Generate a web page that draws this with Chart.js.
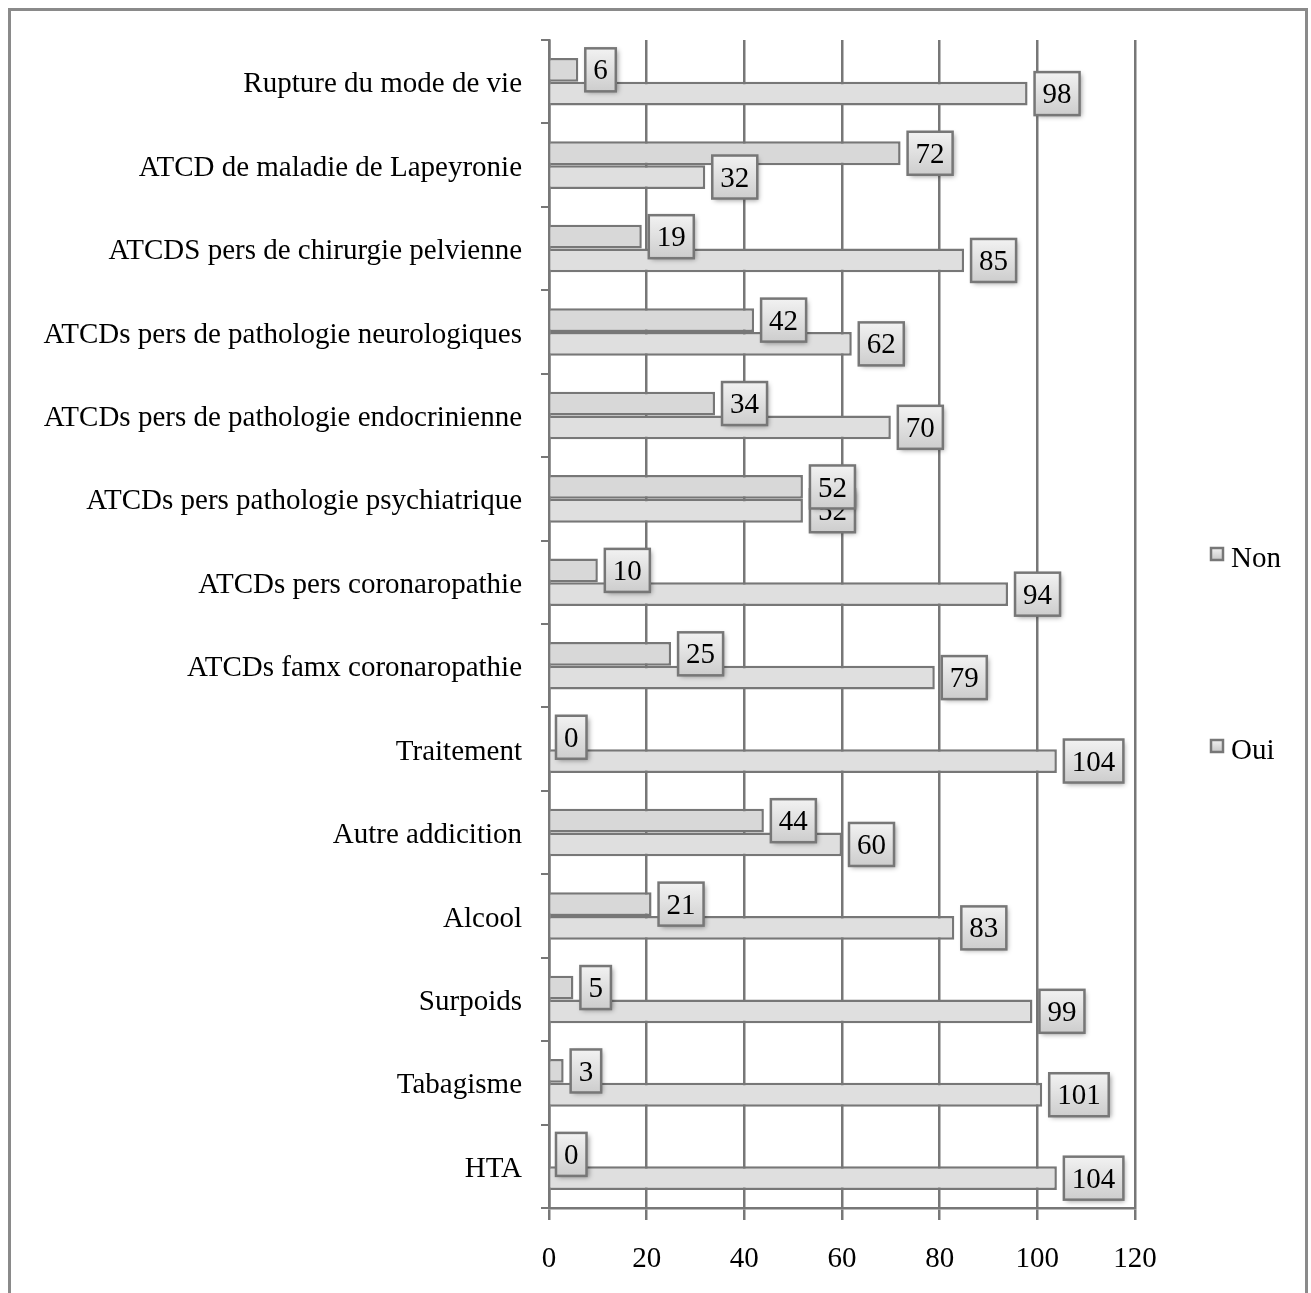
<!DOCTYPE html>
<html>
<head>
<meta charset="utf-8">
<script src="https://cdn.jsdelivr.net/npm/chart.js@4"></script>
<style>
  html, body { margin: 0; padding: 0; background: #fff; overflow: hidden; }
  #frame {
    position: absolute; left: 8px; top: 8px; width: 1294px; height: 1300px;
    border: 3px solid #8a8a8a; border-bottom: none;
  }
  #wrap { position: absolute; left: 0; top: 0; width: 1311px; height: 1293px; }
</style>
</head>
<body>
<div id="frame"></div>
<div id="wrap"><canvas id="chart"></canvas></div>
<script>
const categories = [
  'Rupture du mode de vie',
  'ATCD de maladie de Lapeyronie',
  'ATCDS pers de chirurgie pelvienne',
  'ATCDs pers de pathologie neurologiques',
  'ATCDs pers de pathologie endocrinienne',
  'ATCDs pers pathologie psychiatrique',
  'ATCDs pers coronaropathie',
  'ATCDs famx coronaropathie',
  'Traitement',
  'Autre addicition',
  'Alcool',
  'Surpoids',
  'Tabagisme',
  'HTA'
];
const nonValues = [6, 72, 19, 42, 34, 52, 10, 25, 0, 44, 21, 5, 3, 0];
const ouiValues = [98, 32, 85, 62, 70, 52, 94, 79, 104, 60, 83, 99, 101, 104];
const xTicks = [0, 20, 40, 60, 80, 100, 120];

const gray = '#777777';
const font = 'Liberation Serif, Times New Roman, serif';
const fontSize = 29;

// boxed value labels at the end of each bar (Oui first so Non sits on top)
const boxLabels = {
  id: 'boxLabels',
  afterDatasetsDraw(chart) {
    const ctx = chart.ctx;
    ctx.save();
    ctx.font = fontSize + 'px ' + font;
    [1, 0].forEach(function (di) {
      const ds = chart.data.datasets[di];
      const meta = chart.getDatasetMeta(di);
      meta.data.forEach(function (bar, i) {
        const txt = String(ds.data[i]);
        const w = ctx.measureText(txt).width + 16;
        const h = 43;
        const x = bar.x + 7;
        const y = bar.y - h / 2;
        const g = ctx.createLinearGradient(0, y, 0, y + h);
        g.addColorStop(0, '#f2f2f2');
        g.addColorStop(1, '#cdcdcd');
        ctx.shadowColor = 'rgba(0,0,0,0.4)';
        ctx.shadowBlur = 5;
        ctx.shadowOffsetX = 2;
        ctx.shadowOffsetY = 2;
        ctx.fillStyle = g;
        ctx.fillRect(x, y, w, h);
        ctx.shadowColor = 'transparent';
        ctx.lineWidth = 2.5;
        ctx.strokeStyle = gray;
        ctx.strokeRect(x, y, w, h);
        ctx.fillStyle = '#000';
        ctx.textAlign = 'center';
        ctx.textBaseline = 'middle';
        ctx.fillText(txt, x + w / 2, bar.y + 2);
      });
    });
    ctx.restore();
  }
};

// legend placed like the original, at the right
const sideLegend = {
  id: 'sideLegend',
  afterDraw(chart) {
    const ctx = chart.ctx;
    const items = [
      { text: chart.data.datasets[0].label, y: 558 },
      { text: chart.data.datasets[1].label, y: 750 }
    ];
    ctx.save();
    ctx.font = fontSize + 'px ' + font;
    ctx.textBaseline = 'middle';
    items.forEach(function (it) {
      const g = ctx.createLinearGradient(0, it.y - 9, 0, it.y + 3);
      g.addColorStop(0, '#eeeeee');
      g.addColorStop(1, '#c4c4c4');
      ctx.fillStyle = g;
      ctx.fillRect(1211, it.y - 10, 12, 12);
      ctx.lineWidth = 2.5;
      ctx.strokeStyle = gray;
      ctx.strokeRect(1211, it.y - 10, 12, 12);
      ctx.fillStyle = '#000';
      ctx.fillText(it.text, 1231, it.y + 1);
    });
    ctx.restore();
  }
};

new Chart(document.getElementById('chart'), {
  type: 'bar',
  data: {
    labels: categories,
    datasets: [
      { label: 'Non', data: nonValues, backgroundColor: '#d8d8d8', borderColor: gray, borderWidth: 2.5 },
      { label: 'Oui', data: ouiValues, backgroundColor: '#dfdfdf', borderColor: gray, borderWidth: 2.5 }
    ]
  },
  options: {
    indexAxis: 'y',
    responsive: true,
    maintainAspectRatio: false,
    animation: false,
    categoryPercentage: 0.57,
    barPercentage: 1,
    layout: { padding: { left: 0, right: 176, top: 40, bottom: 0 } },
    plugins: {
      legend: { display: false },
      tooltip: { enabled: false }
    },
    scales: {
      x: {
        min: 0,
        max: 120,
        afterBuildTicks: function (axis) {
          axis.ticks = xTicks.map(function (v) { return { value: v }; });
        },
        afterFit: function (axis) { axis.height = 85; },
        grid: { color: gray, lineWidth: 2.5, tickLength: 12 },
        border: { color: gray, width: 2.5 },
        ticks: { color: '#000', font: { family: font, size: fontSize }, padding: 22 }
      },
      y: {
        afterFit: function (axis) { axis.width = 549; },
        grid: { drawOnChartArea: false, color: gray, lineWidth: 2, tickLength: 8, offset: true },
        border: { color: gray, width: 2.5 },
        ticks: { color: '#000', font: { family: font, size: fontSize }, padding: 19, labelOffset: 3, autoSkip: false }
      }
    }
  },
  plugins: [boxLabels, sideLegend]
});
</script>
</body>
</html>
